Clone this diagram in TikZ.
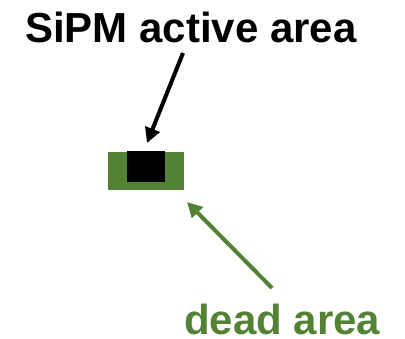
\documentclass[tikz,border=0pt]{standalone}
\usepackage{fontspec}
\setmainfont{Liberation Sans}
\usetikzlibrary{arrows.meta}
\definecolor{deadgreen}{RGB}{84,130,53}
\begin{document}
\begin{tikzpicture}[x=1pt,y=-1pt,
  lbl/.style={font=\fontsize{42}{48}\selectfont\bfseries, inner sep=0pt, anchor=base west},
  arr/.style={line width=4pt, -{Triangle[length=15pt,width=15pt]}}]
\useasboundingbox (0,0) rectangle (405,338);
\node[lbl] (title) at (25,42) {SiPM active area};
\node[lbl, text=deadgreen, text depth=0pt] (dlabel) at (184,334) {dead area};
\node[fill=deadgreen, draw=none, minimum width=76pt, minimum height=38pt, inner sep=0pt, anchor=north west] (dead) at (108,152) {};
\node[fill=black, draw=none, minimum width=38pt, minimum height=31pt, inner sep=0pt, anchor=north west] (active) at (127,151) {};
\coordinate (a1) at (183,53);
\coordinate (a2) at (147,143);
\coordinate (g1) at (272,288);
\coordinate (g2) at (187,202);
\draw[arr] (a1) -- (a2);
\draw[arr, deadgreen] (g1) -- (g2);
\end{tikzpicture}
\end{document}
